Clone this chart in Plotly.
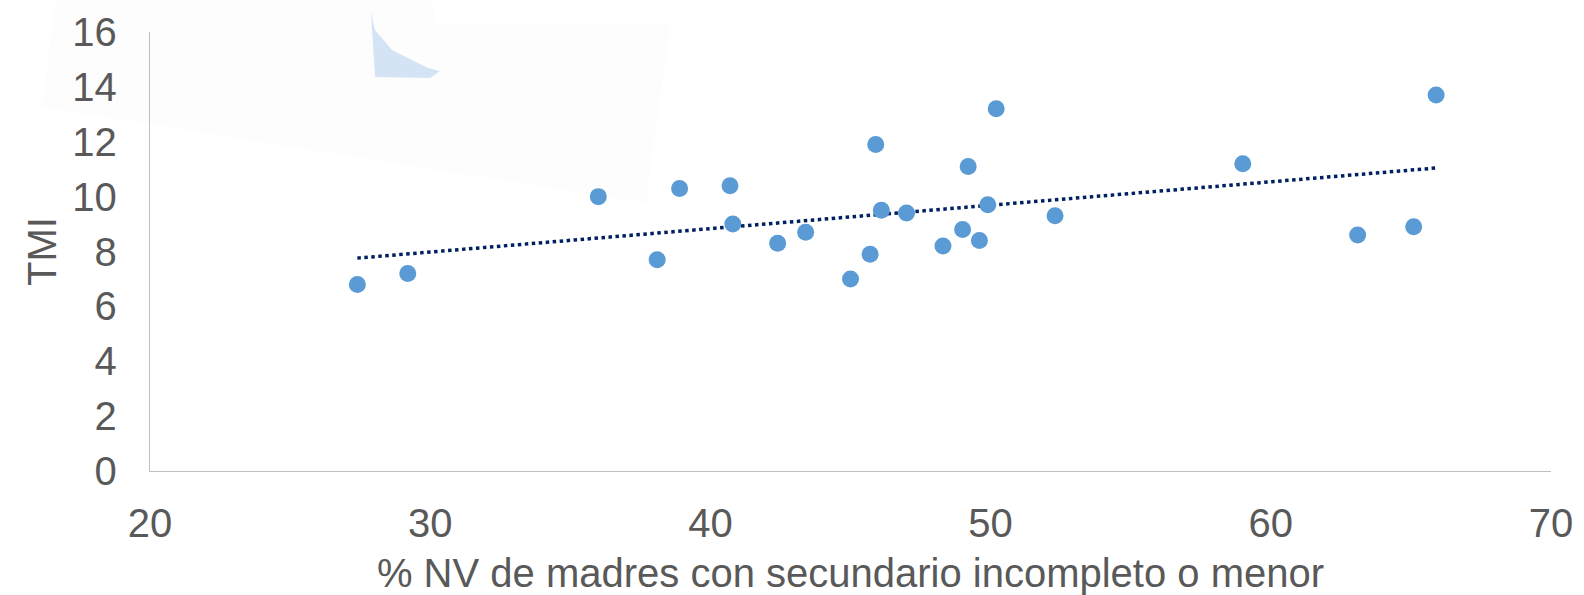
import numpy as np
import plotly.graph_objects as go

# Data
pct_secundario_incompleto = [27.4, 29.2, 36.0, 38.1, 38.9, 40.7, 40.8, 42.4, 43.4, 45.0,
                             45.7, 45.9, 46.1, 47.0, 48.3, 49.0, 49.2, 49.6, 49.9, 50.2,
                             52.3, 59.0, 63.1, 65.1, 65.9]
tmi = [6.8, 7.2, 10.0, 7.7, 10.3, 10.4, 9.0, 8.3, 8.7, 7.0,
       7.9, 11.9, 9.5, 9.4, 8.2, 8.8, 11.1, 8.4, 9.7, 13.2,
       9.3, 11.2, 8.6, 8.9, 13.7]
x_ticks = [20, 30, 40, 50, 60, 70]
y_ticks = [0, 2, 4, 6, 8, 10, 12, 14, 16]
x_title = "% NV de madres con secundario incompleto o menor"
y_title = "TMI"

# Linear trendline (least squares) over the data range
x_arr = np.array(pct_secundario_incompleto)
y_arr = np.array(tmi)
slope, intercept = np.polyfit(x_arr, y_arr, 1)
trend_x = [x_arr.min(), x_arr.max()]
trend_y = [slope * v + intercept for v in trend_x]

TEXT = "#595959"
FONT = "Liberation Sans, Arial, sans-serif"

fig = go.Figure()
fig.add_trace(go.Scatter(
    x=trend_x, y=trend_y, mode="lines",
    line=dict(color="#002060", width=3.5, dash="dot"),
    hoverinfo="skip", showlegend=False))
fig.add_trace(go.Scatter(
    x=pct_secundario_incompleto, y=tmi, mode="markers",
    marker=dict(color="#5B9BD5", size=17, line=dict(width=0)),
    showlegend=False))

# Plot-area geometry (pixels)
L, R, T, B = 150, 33, 32, 124
W, H = 1584, 595
pw, ph = W - L - R, H - T - B


def px(xp, yp):
    return (xp - L) / pw, (H - B - yp) / ph


def path(points):
    pts = [px(a, b) for a, b in points]
    return "M " + " L ".join(f"{a:.4f},{b:.4f}" for a, b in pts) + " Z"


# faint background artifact seen in the reference
fig.add_shape(type="path", xref="paper", yref="paper", layer="below",
              path=path([(56, 0), (42, 107), (646, 203), (670, 25), (435, 23), (433, 0)]),
              fillcolor="#FDFDFD", line=dict(width=0))
fig.add_shape(type="path", xref="paper", yref="paper", layer="below",
              path=path([(371, 12), (375, 30), (392, 50), (428, 68), (440, 71),
                         (430, 78), (375, 77)]),
              fillcolor="#D5E4F4", line=dict(width=0))

fig.update_layout(
    width=W, height=H,
    margin=dict(l=L, r=R, t=T, b=B, pad=0, autoexpand=False),
    paper_bgcolor="white", plot_bgcolor="rgba(0,0,0,0)",
    font=dict(family=FONT, color=TEXT, size=40),
    showlegend=False,
)
fig.update_xaxes(
    range=[20, 70], tickvals=x_ticks, ticktext=[str(v) for v in x_ticks],
    automargin=False,
    showgrid=False, zeroline=False, showline=True, linecolor="#BFBFBF", linewidth=1.3,
    ticks="outside", ticklen=17, tickcolor="rgba(0,0,0,0)",
    tickfont=dict(size=40, color=TEXT, family=FONT),
    title=dict(text=x_title, font=dict(size=40, color=TEXT, family=FONT), standoff=14),
)
fig.update_yaxes(
    range=[0, 16], tickvals=y_ticks, ticktext=[str(v) for v in y_ticks],
    automargin=False,
    showgrid=False, zeroline=False, showline=True, linecolor="#BFBFBF", linewidth=1.3,
    ticks="outside", ticklen=24, tickcolor="rgba(0,0,0,0)",
    tickfont=dict(size=40, color=TEXT, family=FONT),
    title=dict(text=y_title, font=dict(size=40, color=TEXT, family=FONT), standoff=3),
)

fig.write_html("out.html", config={"displayModeBar": False},
               post_script="document.body.style.margin='0';document.body.style.overflow='hidden';")
